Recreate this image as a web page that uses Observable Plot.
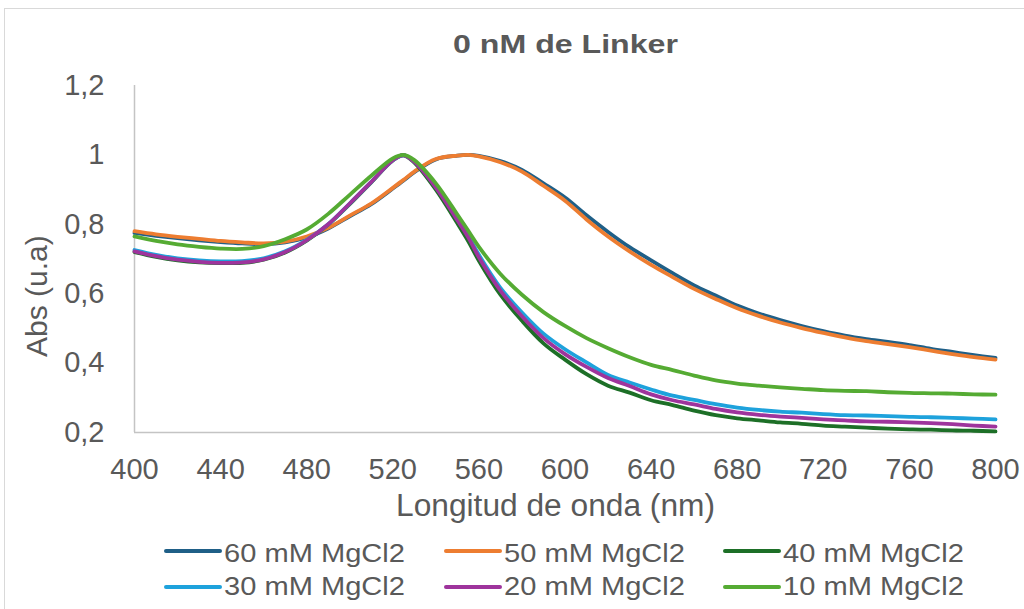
<!DOCTYPE html>
<html><head><meta charset="utf-8">
<script src="https://cdn.jsdelivr.net/npm/d3@7"></script>
<script src="https://cdn.jsdelivr.net/npm/@observablehq/plot@0.6"></script>
<style>
body{margin:0;background:#fff;}
#wrap{position:relative;width:1024px;height:609px;overflow:hidden;background:#fff;font-family:"Liberation Sans",Arial,sans-serif;}
#wrap svg{position:absolute;left:0;top:0;}
#frame{position:absolute;left:4px;top:8px;width:1100px;height:700px;border:1.5px solid #D9D9D9;box-sizing:border-box;z-index:2;pointer-events:none;}
</style></head><body><div id="wrap"><div id="frame"></div></div>
<script>
const title = "0 nM de Linker";
const xLabel = "Longitud de onda (nm)";
const yLabel = "Abs (u.a)";
const xTicks = [400, 440, 480, 520, 560, 600, 640, 680, 720, 760, 800];
const yTicks = [0.2, 0.4, 0.6, 0.8, 1, 1.2];
const seriesNames = ["60 mM MgCl2", "50 mM MgCl2", "40 mM MgCl2", "30 mM MgCl2", "20 mM MgCl2", "10 mM MgCl2"];
const seriesColors = ["#1F5F87", "#ED7D31", "#1D6F27", "#1EA2DC", "#9E349C", "#55AB33"];

const nm = [400,410,420,430,440,450,460,470,480,490,500,510,520,525,530,540,550,555,560,570,580,590,600,610,620,630,640,650,660,670,680,690,700,710,720,730,740,750,760,770,780,790,800];

const mg60 = [0.775,0.767,0.760,0.754,0.749,0.745,0.743,0.748,0.762,0.788,0.823,0.858,0.903,
  0.926,0.950,0.987,0.998,1.000,
  0.997,0.982,0.957,0.918,0.877,0.826,0.778,0.734,0.696,0.659,0.624,0.595,0.566,0.543,0.524,0.507,0.492,0.479,0.469,0.461,0.452,0.441,0.432,0.423,0.415];
const mg50 = [0.780,0.771,0.764,0.758,0.752,0.748,0.745,0.750,0.765,0.790,0.825,0.860,0.905,
  0.928,0.952,0.988,0.998,1.000,
  0.996,0.979,0.952,0.911,0.868,0.814,0.765,0.722,0.683,0.648,0.614,0.585,0.558,0.536,0.517,0.501,0.487,0.474,0.463,0.455,0.446,0.436,0.426,0.417,0.410];
const mg40 = [0.720,0.706,0.696,0.690,0.688,0.689,0.698,0.719,0.753,0.799,0.858,0.921,0.984,
  0.999,0.978,0.900,0.803,0.752,
  0.695,0.597,0.522,0.457,0.410,0.368,0.335,0.315,0.293,0.279,0.263,0.250,0.241,0.235,0.229,0.225,0.220,0.217,0.214,0.211,0.209,0.208,0.206,0.205,0.203];
const mg30 = [0.726,0.712,0.702,0.696,0.693,0.694,0.702,0.722,0.755,0.800,0.860,0.922,0.985,
  0.999,0.981,0.909,0.817,0.768,
  0.712,0.617,0.546,0.485,0.440,0.402,0.366,0.344,0.324,0.306,0.294,0.282,0.272,0.265,0.260,0.257,0.253,0.250,0.249,0.247,0.245,0.244,0.242,0.240,0.238];
const mg20 = [0.722,0.708,0.698,0.692,0.689,0.690,0.699,0.720,0.754,0.800,0.860,0.922,0.985,
  0.999,0.980,0.906,0.812,0.763,
  0.705,0.609,0.535,0.472,0.426,0.389,0.357,0.334,0.310,0.293,0.281,0.268,0.258,0.251,0.246,0.242,0.238,0.235,0.232,0.231,0.229,0.227,0.224,0.220,0.217];
const mg10 = [0.765,0.752,0.742,0.735,0.730,0.729,0.737,0.757,0.785,0.830,0.885,0.940,0.990,
  1.000,0.985,0.918,0.828,0.782,
  0.735,0.657,0.597,0.547,0.507,0.472,0.443,0.417,0.395,0.380,0.364,0.350,0.341,0.335,0.330,0.326,0.322,0.320,0.319,0.316,0.314,0.313,0.312,0.310,0.309];

const seriesValues = [mg60, mg50, mg40, mg30, mg20, mg10];
const table = [];
seriesNames.forEach((name, i) => {
  nm.forEach((w, j) => table.push({series: name, nm: w, abs: seriesValues[i][j]}));
});

const chart = Plot.plot({
  width: 1024, height: 609,
  marginLeft: 134, marginRight: 29, marginTop: 85, marginBottom: 177,
  style: {fontFamily: "'Liberation Sans', Arial, sans-serif", fontSize: "29px", color: "#595959", background: "transparent"},
  x: {domain: [400, 800], ticks: xTicks, tickSize: 0, tickPadding: 26, label: null},
  y: {domain: [0.2, 1.2], ticks: yTicks, tickSize: 0, tickPadding: 30, label: null,
      tickFormat: d => String(d).replace(".", ",")},
  color: {domain: seriesNames, range: seriesColors},
  marks: [
    Plot.ruleX([400], {y1: 0.2, y2: 1.2, stroke: "#C4C4C4", strokeWidth: 1.5}),
    Plot.ruleY([0.2], {x1: 400, x2: 800, stroke: "#C4C4C4", strokeWidth: 1.7}),
    Plot.line(table, {x: "nm", y: "abs", z: "series", stroke: "series", strokeWidth: 3.8, curve: "catmull-rom"})
  ]
});
document.getElementById("wrap").insertBefore(chart, document.getElementById("frame"));

const svg = d3.select(chart);
svg.append("text").attr("x", 453).attr("y", 53).attr("text-anchor", "start")
  .attr("font-size", 26).attr("font-weight", "bold").attr("fill", "#595959")
  .attr("textLength", 225).attr("lengthAdjust", "spacingAndGlyphs").text(title);
svg.append("text").attr("x", 396).attr("y", 516).attr("text-anchor", "start")
  .attr("font-size", 31).attr("fill", "#595959")
  .attr("textLength", 319).attr("lengthAdjust", "spacingAndGlyphs").text(xLabel);
svg.append("text").attr("transform", "translate(47,357) rotate(-90)").attr("text-anchor", "start")
  .attr("font-size", 30).attr("fill", "#595959").text(yLabel);

const colX = [166, 446, 725];
const rowLine = [551, 587];
const rowText = [562, 595];
seriesNames.forEach((name, i) => {
  const c = i % 3, r = Math.floor(i / 3);
  const g = svg.append("g");
  g.append("line").attr("x1", colX[c]).attr("x2", colX[c] + 54)
    .attr("y1", rowLine[r]).attr("y2", rowLine[r])
    .attr("stroke", seriesColors[i]).attr("stroke-width", 4).attr("stroke-linecap", "round");
  g.append("text").attr("x", colX[c] + 58).attr("y", rowText[r]).attr("text-anchor", "start")
    .attr("font-size", 26).attr("fill", "#595959")
    .attr("textLength", 181).attr("lengthAdjust", "spacingAndGlyphs").text(name);
});
</script></body></html>
